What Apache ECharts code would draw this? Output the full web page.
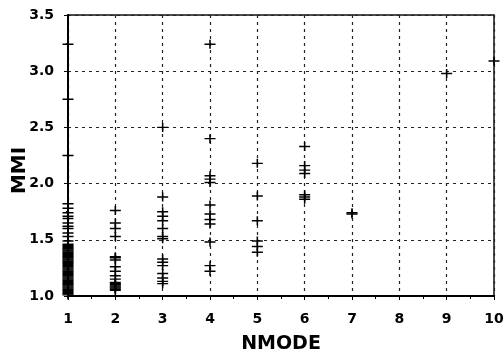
<!DOCTYPE html>
<html><head><meta charset="utf-8">
<script src="https://cdn.jsdelivr.net/npm/echarts@6/dist/echarts.min.js"></script>
<style>html,body{margin:0;padding:0;background:#fff}#c{width:504px;height:358px}</style>
</head><body><div id="c"></div>
<script>
// MMI readings for each NMODE value
const mmiAt1 = [3.24, 2.75, 2.25, 1.82, 1.78, 1.74, 1.71, 1.69, 1.65, 1.62, 1.60, 1.56, 1.53, 1.49, 1.46, 1.45, 1.44, 1.43, 1.42, 1.41, 1.40, 1.39, 1.38, 1.37, 1.36, 1.35, 1.34, 1.33, 1.32, 1.31, 1.30, 1.29, 1.28, 1.27, 1.26, 1.25, 1.24, 1.23, 1.22, 1.21, 1.20, 1.19, 1.18, 1.17, 1.16, 1.15, 1.14, 1.13, 1.12, 1.11, 1.10, 1.09, 1.08, 1.07, 1.06, 1.05, 1.04, 1.03, 1.02, 1.01];
const mmiAt2 = [1.76, 1.65, 1.60, 1.53, 1.35, 1.34, 1.32, 1.26, 1.22, 1.18, 1.15, 1.12, 1.11, 1.10, 1.09, 1.08, 1.07, 1.06, 1.05];
const mmiAt3 = [2.50, 1.88, 1.75, 1.71, 1.67, 1.60, 1.53, 1.51, 1.33, 1.30, 1.27, 1.20, 1.16, 1.13, 1.11];
const mmiAt4 = [3.24, 2.40, 2.07, 2.04, 2.01, 1.81, 1.73, 1.68, 1.64, 1.48, 1.27, 1.22];
const mmiAt5 = [2.18, 1.89, 1.67, 1.49, 1.44, 1.39];
const mmiAt6 = [2.33, 2.16, 2.12, 2.09, 1.90, 1.88, 1.86];
const mmiAt7 = [1.73, 1.74];
const mmiAt9 = [2.98];
const mmiAt10 = [3.09];
const nmodeColumns = [[1, mmiAt1], [2, mmiAt2], [3, mmiAt3], [4, mmiAt4], [5, mmiAt5], [6, mmiAt6], [7, mmiAt7], [9, mmiAt9], [10, mmiAt10]];
const xTicks = [1, 2, 3, 4, 5, 6, 7, 8, 9, 10];
const yTicks = [1.0, 1.5, 2.0, 2.5, 3.0, 3.5];

const points = [];
nmodeColumns.forEach(([x, ys]) => ys.forEach(y => points.push([x, y])));

const chart = echarts.init(document.getElementById('c'), null, {renderer: 'canvas'});
const font = '"DejaVu Sans", "Liberation Sans", Arial, sans-serif';
chart.setOption({
  backgroundColor: '#fff',
  animation: false,
  grid: {left: 68, right: 10, top: 15, bottom: 62, show: true, borderColor: '#111', borderWidth: 1.5,
    containLabel: false, outerBoundsMode: 'none'},
  xAxis: {
    type: 'value', min: xTicks[0], max: xTicks[xTicks.length - 1], interval: 1,
    name: 'NMODE', nameLocation: 'middle', nameGap: 39, nameMoveOverlap: false,
    nameTextStyle: {fontFamily: font, fontWeight: 'bold', fontSize: 19, color: '#000'},
    axisLine: {show: true, onZero: false, lineStyle: {color: '#000', width: 2}},
    axisTick: {show: true, length: 4, lineStyle: {color: '#000'}},
    minorTick: {show: true, splitNumber: 2, length: 3, lineStyle: {color: '#000'}},
    axisLabel: {fontFamily: font, fontWeight: 'bold', fontSize: 14, color: '#000', margin: 16},
    splitLine: {show: true, lineStyle: {color: '#222', width: 1.2, type: [3, 4]}}
  },
  yAxis: {
    type: 'value', min: yTicks[0], max: yTicks[yTicks.length - 1], interval: 0.5,
    name: 'MMI', nameLocation: 'middle', nameGap: 38, nameRotate: 90, nameMoveOverlap: false,
    nameTextStyle: {fontFamily: font, fontWeight: 'bold', fontSize: 20, color: '#000', padding: [0, 30, 0, 0]},
    axisLine: {show: true, onZero: false, lineStyle: {color: '#000', width: 2}},
    axisTick: {show: true, length: 4, lineStyle: {color: '#000'}},
    minorTick: {show: true, splitNumber: 2, length: 2, lineStyle: {color: '#000'}},
    axisLabel: {fontFamily: font, fontWeight: 'bold', fontSize: 14, color: '#000', margin: 14,
      formatter: v => v.toFixed(1)},
    splitLine: {show: true, lineStyle: {color: '#222', width: 1.2, type: [3, 4]}}
  },
  series: [{
    type: 'scatter',
    data: points,
    symbol: 'path://M0,4.2H10V5.8H0Z M4.3,0H5.7V10H4.3Z',
    symbolSize: [11, 9],
    itemStyle: {color: '#000', opacity: 1},
    clip: false
  }]
});
</script></body></html>
